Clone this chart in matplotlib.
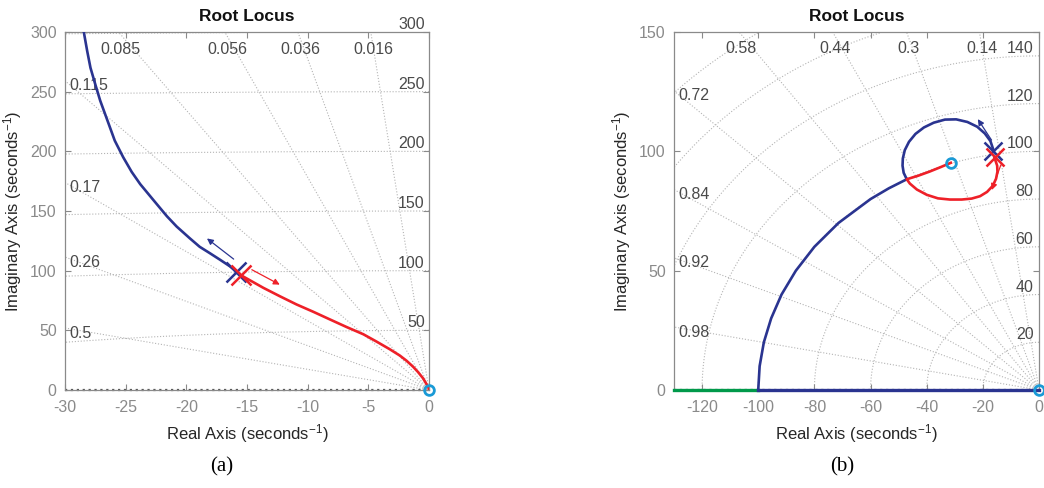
import numpy as np
import matplotlib
matplotlib.use("Agg")
import matplotlib.pyplot as plt

plt.rcParams['font.family'] = ['Liberation Sans', 'DejaVu Sans']
plt.rcParams['mathtext.fontset'] = 'custom'
plt.rcParams['mathtext.rm'] = 'Liberation Sans'
plt.rcParams['mathtext.it'] = 'Liberation Sans:italic'
plt.rcParams['axes.unicode_minus'] = False

# ---------------- data ----------------
# Panel (a)
a_blue_x = [-28.44, -28.17, -27.9, -27.5, -27.1, -26.4, -25.9, -25.2, -24.5, -23.8,
            -22.7, -21.6, -20.8, -19.7, -18.9, -18.07, -17.2, -16.4, -15.85]
a_blue_y = [299.4, 284, 270, 256, 242.5, 223, 209, 195, 182.7, 172.5,
            159, 145.6, 137, 127, 120, 114.7, 109, 103.6, 99.4]
a_red_x = [-15.59, -13.65, -12.3, -10.92, -9.55, -8.18, -6.8, -5.41, -4.33, -3.24,
           -2.41, -1.86, -1.32, -0.9, -0.49, -0.21, -0.05, 0.0]
a_red_y = [96.7, 85.6, 78.6, 71.7, 65.6, 59.2, 52.8, 46.7, 40.6, 34.2,
           28.9, 24.6, 19.6, 15.0, 9.8, 5.0, 2.0, 0.0]
a_pole_blue = (-15.9, 98.5)
a_pole_red = (-15.5, 96.5)
a_zero = (0.0, 0.0)
a_arrow_blue = ((-16.1, 109.7), (-18.3, 127.0))
a_arrow_red = ((-14.6, 100.8), (-12.3, 88.3))
a_zetas = [0.016, 0.036, 0.056, 0.085, 0.115, 0.17, 0.26, 0.5]
a_wns = [50, 100, 150, 200, 250, 300]

# Panel (b)
b_real_blue_x = [-100, 0]
b_real_green_x = [-130, -100]
b_arc_x = [-100.0, -99.5, -98.0, -95.4, -91.7, -86.6, -80.0, -71.4, -60.0, -53.5, -47.1]
b_arc_y = [0.0, 10.0, 20.0, 30.0, 40.0, 50.0, 60.0, 70.0, 80.0, 84.5, 88.3]
b_loop_blue_x = [-47.1, -48.2, -48.6, -48.5, -47.8, -46.3, -44.0, -41.0, -37.5, -33.5,
                 -29.5, -25.5, -22.0, -19.3, -17.3, -16.3]
b_loop_blue_y = [88.3, 91.0, 94.0, 97.0, 100.5, 104.0, 107.3, 110.0, 112.0, 113.3,
                 113.4, 112.3, 110.3, 107.5, 104.3, 100.8]
b_loop_red_x = [-15.9, -14.9, -14.8, -15.3, -16.5, -18.5, -21.0, -24.0, -27.5, -31.7,
                -36.0, -40.0, -43.5, -46.0, -47.1, -43.0, -39.0, -35.0, -31.4]
b_loop_red_y = [97.5, 94.0, 91.5, 88.5, 85.5, 83.0, 81.2, 80.2, 79.8, 79.8,
                80.3, 81.8, 84.0, 86.5, 88.3, 89.8, 91.5, 93.4, 95.2]
b_pole_blue = (-16.3, 100.3)
b_pole_red = (-15.8, 97.5)
b_zeros = [(-31.4, 95.2), (0.0, 0.0)]
b_arrow_blue = ((-16.9, 104.7), (-21.8, 113.5))
b_arrow_red = ((-13.6, 94.3), (-16.8, 83.8))
b_zetas = [0.14, 0.3, 0.44, 0.58, 0.72, 0.84, 0.92, 0.98]
b_wns = [20, 40, 60, 80, 100, 120, 140, 160, 180]
b_wn_labels = [20, 40, 60, 80, 100, 120, 140]

BLUE = '#2a3490'
RED = '#ee2028'
GREEN = '#00994a'
CYAN = '#1a9ad6'
GRID = '#b4b4b4'
GLAB = '#4a4a4a'
TICK = '#8a8a8a'
LAB = '#262626'

fig = plt.figure(figsize=(10.44, 4.88), dpi=100)
H = 488.0
W = 1044.0
axa = fig.add_axes([65 / W, 1 - 390 / H, (429 - 65) / W, (390 - 32) / H])
axb = fig.add_axes([674 / W, 1 - 390 / H, (1039 - 674) / W, (390 - 32) / H])


def style(ax, xlim, ylim, xt, yt):
    ax.set_xlim(*xlim)
    ax.set_ylim(*ylim)
    ax.set_xticks(xt)
    ax.set_yticks(yt)
    ax.tick_params(direction='in', length=4, width=0.8, colors=TICK,
                   labelsize=11.5, top=True, right=True, pad=6)
    ax.tick_params(axis='x', pad=7)
    for s in ax.spines.values():
        s.set_color(TICK)
        s.set_linewidth(0.9)
    ax.set_xlabel('Real Axis (seconds$^{-1}$)', fontsize=12, color=LAB, labelpad=5)
    ax.set_ylabel('Imaginary Axis (seconds$^{-1}$)', fontsize=12, color=LAB, labelpad=4)
    ax.set_title('Root Locus', fontsize=12.5, fontweight='bold', color='#111111', pad=8)


def sgrid(ax, zetas, wns, wn_labels, xlim, ylim, dy_top, wn_dx):
    x0, x1 = xlim
    y0, y1 = ylim
    for z in zetas:
        s = np.sqrt(1 - z * z) / z
        xs = np.array([0, -1000.0])
        ax.plot(xs, -xs * s, ls=':', color=GRID, lw=0.8, zorder=1)
        xt = -y1 / s
        if xt > x0:
            ax.text(xt + 0.006 * (x1 - x0), y1 - dy_top, f'{z:g}', ha='center', va='center',
                    fontsize=11.5, color=GLAB, zorder=2)
        else:
            yl = -x0 * s
            ax.text(x0 + 0.013 * (x1 - x0), yl - 0.014 * (y1 - y0), f'{z:g}', ha='left',
                    va='center', fontsize=11.5, color=GLAB, zorder=2)
    ax.plot([x0, 0], [0, 0], ls=':', color='#555555', lw=1.6, zorder=1, clip_on=False)
    th = np.linspace(np.pi / 2, np.pi, 400)
    for wn in wns:
        ax.plot(wn * np.cos(th), wn * np.sin(th), ls=':', color=GRID, lw=0.8, zorder=1)
    for wn in wn_labels:
        ax.text(wn_dx, wn, f'{wn:g}', ha='right', va='bottom', fontsize=11.5,
                color=GLAB, zorder=2, clip_on=False)


def arrow(ax, seg, color):
    (xs, ys), (xe, ye) = seg
    ax.annotate('', xy=(xe, ye), xytext=(xs, ys),
                arrowprops=dict(arrowstyle='-|>', color=color, lw=0.9,
                                mutation_scale=9, shrinkA=0, shrinkB=0), zorder=6)


# ---- panel (a)
style(axa, (-30, 0), (0, 300), range(-30, 1, 5), range(0, 301, 50))
sgrid(axa, a_zetas, a_wns, a_wns, (-30, 0), (0, 300), 15, -0.35)
axa.plot(a_blue_x, a_blue_y, color=BLUE, lw=1.9, zorder=4, solid_joinstyle='round')
axa.plot(a_red_x, a_red_y, color=RED, lw=1.9, zorder=4, solid_joinstyle='round')
axa.plot(*a_pole_blue, marker='x', ms=15, mew=1.8, color=BLUE, zorder=5)
axa.plot(*a_pole_red, marker='x', ms=15, mew=1.8, color=RED, zorder=5)
axa.plot(*a_zero, marker='o', ms=7, mew=2, mec=CYAN, mfc='none', zorder=6, clip_on=False)
arrow(axa, a_arrow_blue, BLUE)
arrow(axa, a_arrow_red, RED)

# ---- panel (b)
style(axb, (-130, 0), (0, 150), range(-120, 1, 20), [0, 50, 100, 150])
sgrid(axb, b_zetas, b_wns, b_wn_labels, (-130, 0), (0, 150), 7, -2.0)
axb.plot(b_real_green_x, [0, 0], color=GREEN, lw=2.4, zorder=4, clip_on=False)
axb.plot(b_real_blue_x, [0, 0], color=BLUE, lw=2.4, zorder=4, clip_on=False)
axb.plot(b_arc_x, b_arc_y, color=BLUE, lw=1.9, zorder=4, solid_joinstyle='round')
axb.plot(b_loop_blue_x, b_loop_blue_y, color=BLUE, lw=1.9, zorder=4, solid_joinstyle='round')
axb.plot(b_loop_red_x, b_loop_red_y, color=RED, lw=1.9, zorder=4, solid_joinstyle='round')
axb.plot(*b_pole_blue, marker='x', ms=13, mew=1.8, color=BLUE, zorder=5)
axb.plot(*b_pole_red, marker='x', ms=13, mew=1.8, color=RED, zorder=5)
for zx, zy in b_zeros:
    axb.plot(zx, zy, marker='o', ms=7, mew=2, mec=CYAN, mfc='none', zorder=6, clip_on=False)
arrow(axb, b_arrow_blue, BLUE)
arrow(axb, b_arrow_red, RED)

fig.text(222 / W, 1 - 467 / H, '(a)', ha='center', va='center', fontsize=15,
         family='Liberation Serif', color='black')
fig.text(842 / W, 1 - 467 / H, '(b)', ha='center', va='center', fontsize=15,
         family='Liberation Serif', color='black')

fig.savefig('out.png', dpi=100)
